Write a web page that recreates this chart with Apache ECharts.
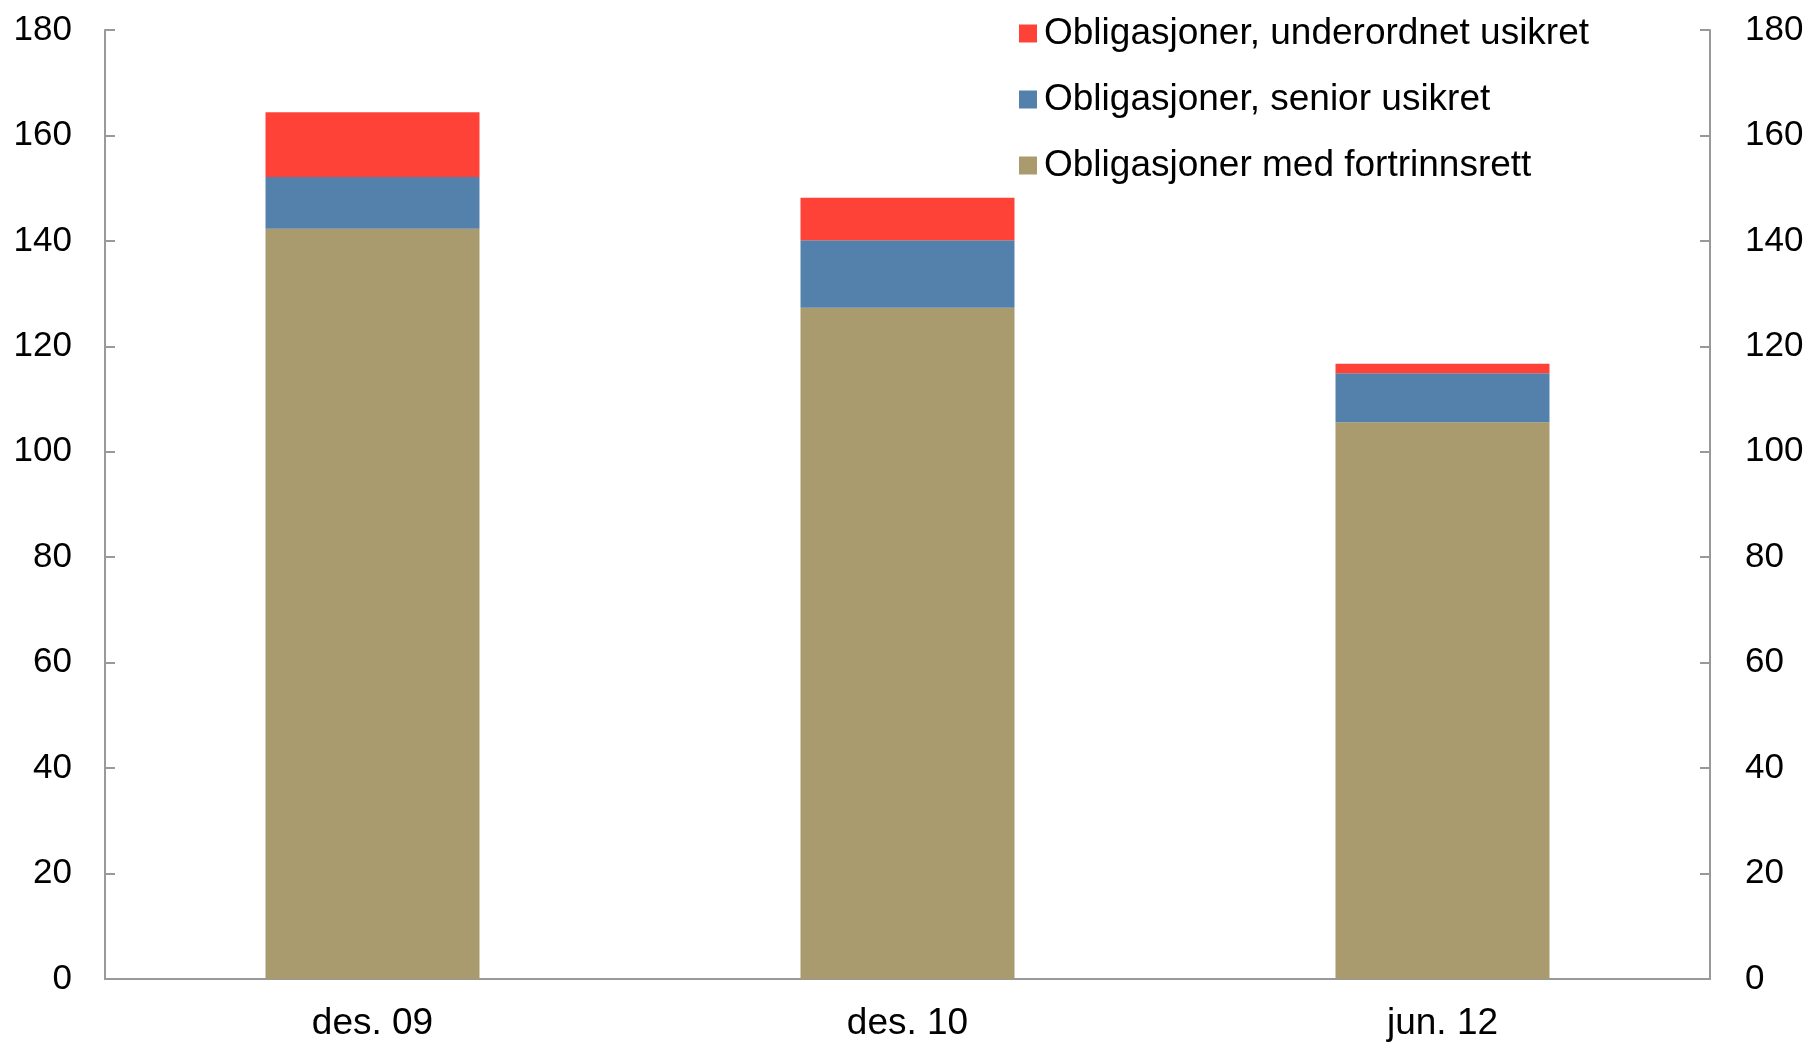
<!DOCTYPE html>
<html>
<head>
<meta charset="utf-8">
<title>Obligasjoner</title>
<script src="https://cdn.jsdelivr.net/npm/echarts@6/dist/echarts.min.js"></script>
<style>
  html, body { margin: 0; padding: 0; background: #fff; }
  #chart { width: 1812px; height: 1043px; }
</style>
</head>
<body>
<div id="chart"></div>
<script>
  // data
  const categories = ['des. 09', 'des. 10', 'jun. 12'];
  const fortrinnsrett = [142.3, 127.3, 105.6];
  const seniorUsikret = [9.8, 12.8, 9.3];
  const underordnetUsikret = [12.3, 8.1, 1.8];
  const yTicks = { min: 0, max: 180, interval: 20 };

  const names = {
    sub: 'Obligasjoner, underordnet usikret',
    senior: 'Obligasjoner, senior usikret',
    covered: 'Obligasjoner med fortrinnsrett'
  };

  const font = '"Liberation Sans", Arial, sans-serif';
  const axisColor = '#999999';

  const yAxisBase = (pos) => ({
    type: 'value',
    position: pos,
    min: yTicks.min,
    max: yTicks.max,
    interval: yTicks.interval,
    splitLine: { show: false },
    axisLine: { show: true, lineStyle: { color: axisColor, width: 2 } },
    axisTick: { show: true, inside: true, length: 10, lineStyle: { color: axisColor, width: 2 } },
    axisLabel: { color: '#000', fontSize: 35, fontFamily: font, margin: pos === 'left' ? 33 : 35 }
  });

  const chart = echarts.init(document.getElementById('chart'));
  chart.setOption({
    animation: false,
    grid: { left: 105, right: 102, top: 30, bottom: 64 },
    legend: {
      orient: 'vertical',
      left: 1014,
      top: 10,
      itemWidth: 18,
      itemHeight: 18,
      itemGap: 29,
      icon: 'rect',
      data: [names.sub, names.senior, names.covered],
      textStyle: { color: '#000', fontSize: 37, fontFamily: font, padding: [0, 0, 0, 2] }
    },
    xAxis: {
      type: 'category',
      data: categories,
      axisLine: { lineStyle: { color: axisColor, width: 2 } },
      axisTick: { inside: true, length: 10, lineStyle: { color: axisColor, width: 2 } },
      axisLabel: { color: '#000', fontSize: 37, fontFamily: font, margin: 26 }
    },
    yAxis: [yAxisBase('left'), yAxisBase('right')],
    series: [
      {
        name: names.covered, type: 'bar', stack: 'total', barWidth: '40%',
        itemStyle: { color: '#A99B6E' }, data: fortrinnsrett
      },
      {
        name: names.senior, type: 'bar', stack: 'total',
        itemStyle: { color: '#5481AC' }, data: seniorUsikret
      },
      {
        name: names.sub, type: 'bar', stack: 'total',
        itemStyle: { color: '#FF4238' }, data: underordnetUsikret
      }
    ]
  });
</script>
</body>
</html>
